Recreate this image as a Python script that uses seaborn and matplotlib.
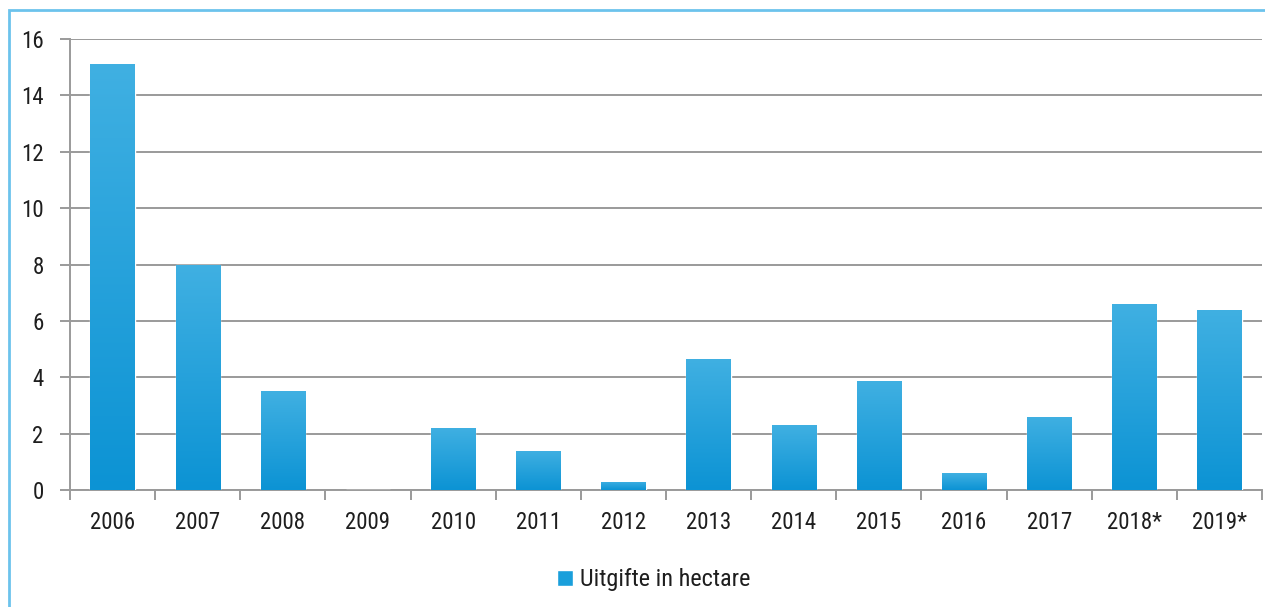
import numpy as np
import pandas as pd
import matplotlib
matplotlib.use("Agg")
import matplotlib.pyplot as plt
from matplotlib.patches import Rectangle
from matplotlib.colors import LinearSegmentedColormap
import seaborn as sns

years = ["2006", "2007", "2008", "2009", "2010", "2011", "2012",
         "2013", "2014", "2015", "2016", "2017", "2018*", "2019*"]
hectares = [15.1, 8.0, 3.5, 0.0, 2.2, 1.4, 0.3, 4.65, 2.3, 3.85, 0.6, 2.6, 6.6, 6.4]
y_ticks = [0, 2, 4, 6, 8, 10, 12, 14, 16]
series_label = "Uitgifte in hectare"

sns.set_theme(style="white")
plt.rcParams["font.family"] = ["Roboto Condensed", "DejaVu Sans"]

df = pd.DataFrame({"jaar": years, "ha": hectares})

fig = plt.figure(figsize=(12.65, 6.07), dpi=100)
ax = fig.add_axes([70 / 1265, 117 / 607, 1192 / 1265, 451 / 607])

bar_color = "#1a9fdb"
sns.barplot(data=df, x="jaar", y="ha", color=bar_color, width=0.52,
            saturation=1, ax=ax, zorder=3, label=series_label)

# vertical gradient fill on each bar: lighter at the top, deeper at the base
grad = LinearSegmentedColormap.from_list("bar", ["#0c93d4", "#40b0e2"])
for p in ax.patches:
    x0, y0 = p.get_x(), p.get_y()
    w, h = p.get_width(), p.get_height()
    if h <= 0:
        continue
    img = ax.imshow(np.linspace(0, 1, 256).reshape(-1, 1), cmap=grad,
                    extent=[x0, x0 + w, y0, y0 + h], origin="lower",
                    aspect="auto", zorder=3.5)
    img.set_clip_path(p)

ax.set_xlim(-0.5, len(years) - 0.5)
ax.set_ylim(0, 16)
ax.set_yticks(y_ticks)
ax.set_yticklabels([str(t) for t in y_ticks])
ax.set_xlabel("")
ax.set_ylabel("")

grid_c = "#9a9a9a"
ax.yaxis.grid(True, color=grid_c, linewidth=1.4, zorder=1)
ax.set_axisbelow(True)
for s in ["top", "right"]:
    ax.spines[s].set_visible(False)
ax.spines["left"].set_color(grid_c)
ax.spines["left"].set_linewidth(1.4)
ax.spines["bottom"].set_color(grid_c)
ax.spines["bottom"].set_linewidth(1.4)

# category labels centred under bars, tick marks at category boundaries
ax.set_xticks(np.arange(len(years)))
ax.set_xticklabels(years)
ax.tick_params(axis="x", which="major", bottom=False, length=0, pad=15,
               labelsize=16.5, labelcolor="#1e1e1e")
ax.set_xticks(np.arange(len(years) + 1) - 0.5, minor=True)
ax.tick_params(axis="x", which="minor", bottom=True, length=7, width=1.4,
               color=grid_c, direction="out")
ax.tick_params(axis="y", which="major", left=True, length=7, width=1.4,
               color=grid_c, pad=12, labelsize=16.5, labelcolor="#1e1e1e")

leg = ax.legend(loc="upper center", bbox_to_anchor=(0.49, -0.125), frameon=False,
                fontsize=17.5, handlelength=0.65, handleheight=0.65,
                handletextpad=0.3)
for t in leg.get_texts():
    t.set_color("#1e1e1e")

# light blue panel frame
fig.patches.append(Rectangle((9 / 1265, -0.05), 1.2, 1 - 10 / 607 + 0.05,
                             transform=fig.transFigure, fill=False,
                             edgecolor="#6cc3ec", linewidth=2, zorder=0))

fig.savefig("out.png", dpi=100)
